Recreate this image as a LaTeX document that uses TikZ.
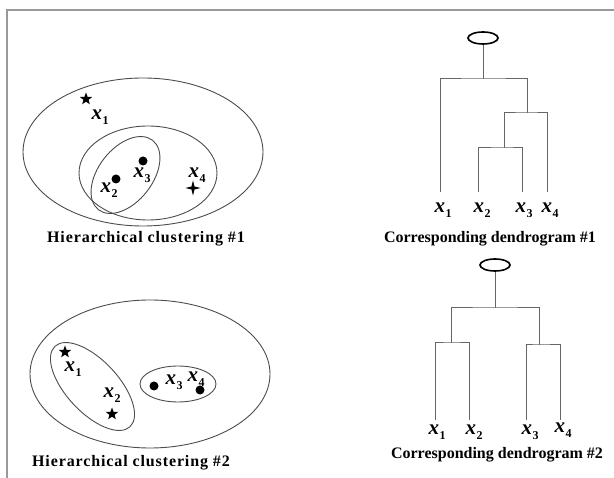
\documentclass[tikz,border=0pt]{standalone}
\usepackage{fontspec}
\setmainfont{Liberation Serif}
\newfontfamily\widefont[LetterSpace=5.5]{Liberation Serif}
\usetikzlibrary{shapes.geometric}
\newcommand{\xv}[1]{{\itshape x}\kern0.5pt\raisebox{-5pt}{\fontsize{12}{12}\selectfont #1}}
\begin{document}
\begin{tikzpicture}[x=1pt,y=-1pt,
  title/.style={font=\fontsize{16}{18}\selectfont\bfseries},
  widetitle/.style={font=\widefont\fontsize{16}{18}\selectfont\bfseries},
  lab/.style={font=\fontsize{21}{23}\selectfont\bfseries, inner sep=0pt},
  clu/.style={draw=black!70, line width=0.9pt},
  tree/.style={draw=black!60, line width=1pt},
  rootnode/.style={draw, ellipse, line width=1.6pt, minimum width=30, minimum height=12, inner sep=0pt},
  starpt/.style={star, star points=5, star point ratio=2.4, fill, minimum size=13, inner sep=0pt},
  dotpt/.style={circle, fill, minimum size=9, inner sep=0pt},
  crosspt/.style={star, star points=4, star point ratio=3.5, fill, minimum size=15, inner sep=0pt}]
\useasboundingbox (0,0) rectangle (614,478);
\draw[black!40, line width=2pt] (614,10) -- (7,10) -- (7,478);

\draw[clu] (143,152) ellipse [x radius=120, y radius=74];
\draw[clu] (148,173) ellipse [x radius=69, y radius=47];
\draw[clu] (125.5,175) ellipse [x radius=44, y radius=27, rotate=52];
\node[starpt] (c1p1) at (86,99) {};
\node[dotpt] (c1p2) at (116,179) {};
\node[dotpt] (c1p3) at (143,161) {};
\node[crosspt] (c1p4) at (193,188) {};
\foreach \n/\x/\y in {1/100/117,2/109/190,3/142/175,4/197/175}
  \node[lab] (c1l\n) at (\x,\y) {\xv{\n}};
\node[widetitle] (c1t) at (146,239) {Hierarchical clustering \#1};

\node[rootnode] (d1root) at (483,38) {};
\coordinate (d1m) at (483,79);
\coordinate (d1m234) at (527,113);
\coordinate (d1m23) at (504,148);
\foreach \n/\x in {1/440,2/478,3/522,4/547}
  \coordinate (d1leaf\n) at (\x,192);
\draw[tree] (d1leaf2) |- (d1m23) -| (d1leaf3);
\draw[tree] (d1m23) |- (d1m234) -| (d1leaf4);
\draw[tree] (d1leaf1) |- (d1m) -| (d1m234);
\draw[tree] (d1m) -- (d1root);
\foreach \n/\x in {1/443,2/482,3/524,4/550}
  \node[lab] (d1l\n) at (\x,210) {\xv{\n}};
\node[title] (d1t) at (490,239) {Corresponding dendrogram \#1};

\draw[clu] (150,374) ellipse [x radius=120, y radius=74];
\draw[clu] (92.5,386.5) ellipse [x radius=55, y radius=26, rotate=-47];
\draw[clu] (178,384) ellipse [x radius=38, y radius=18];
\node[starpt] (c2p1) at (65,352) {};
\node[starpt] (c2p2) at (112,414) {};
\node[dotpt] (c2p3) at (154,386) {};
\node[dotpt] (c2p4) at (200,390) {};
\foreach \n/\x/\y in {1/73/369,2/112/395,3/174/382,4/196/379}
  \node[lab] (c2l\n) at (\x,\y) {\xv{\n}};
\node[widetitle] (c2t) at (131,463) {Hierarchical clustering \#2};

\node[rootnode] (d2root) at (495,265) {};
\coordinate (d2m) at (495,308);
\coordinate (d2m12) at (451,343);
\coordinate (d2m34) at (539,345);
\foreach \n/\x in {1/435,2/469,3/526,4/560}
  \coordinate (d2leaf\n) at (\x,420);
\draw[tree] (d2leaf1) |- (d2m12) -| (d2leaf2);
\draw[tree] (d2leaf3) |- (d2m34) -| (d2leaf4);
\draw[tree] (d2m12) |- (d2m) -| (d2m34);
\draw[tree] (d2m) -- (d2root);
\foreach \n/\x/\y in {1/437/432,2/474/432,3/530/432,4/563/430}
  \node[lab] (d2l\n) at (\x,\y) {\xv{\n}};
\node[title] (d2t) at (497,455) {Corresponding dendrogram \#2};
\end{tikzpicture}
\end{document}
